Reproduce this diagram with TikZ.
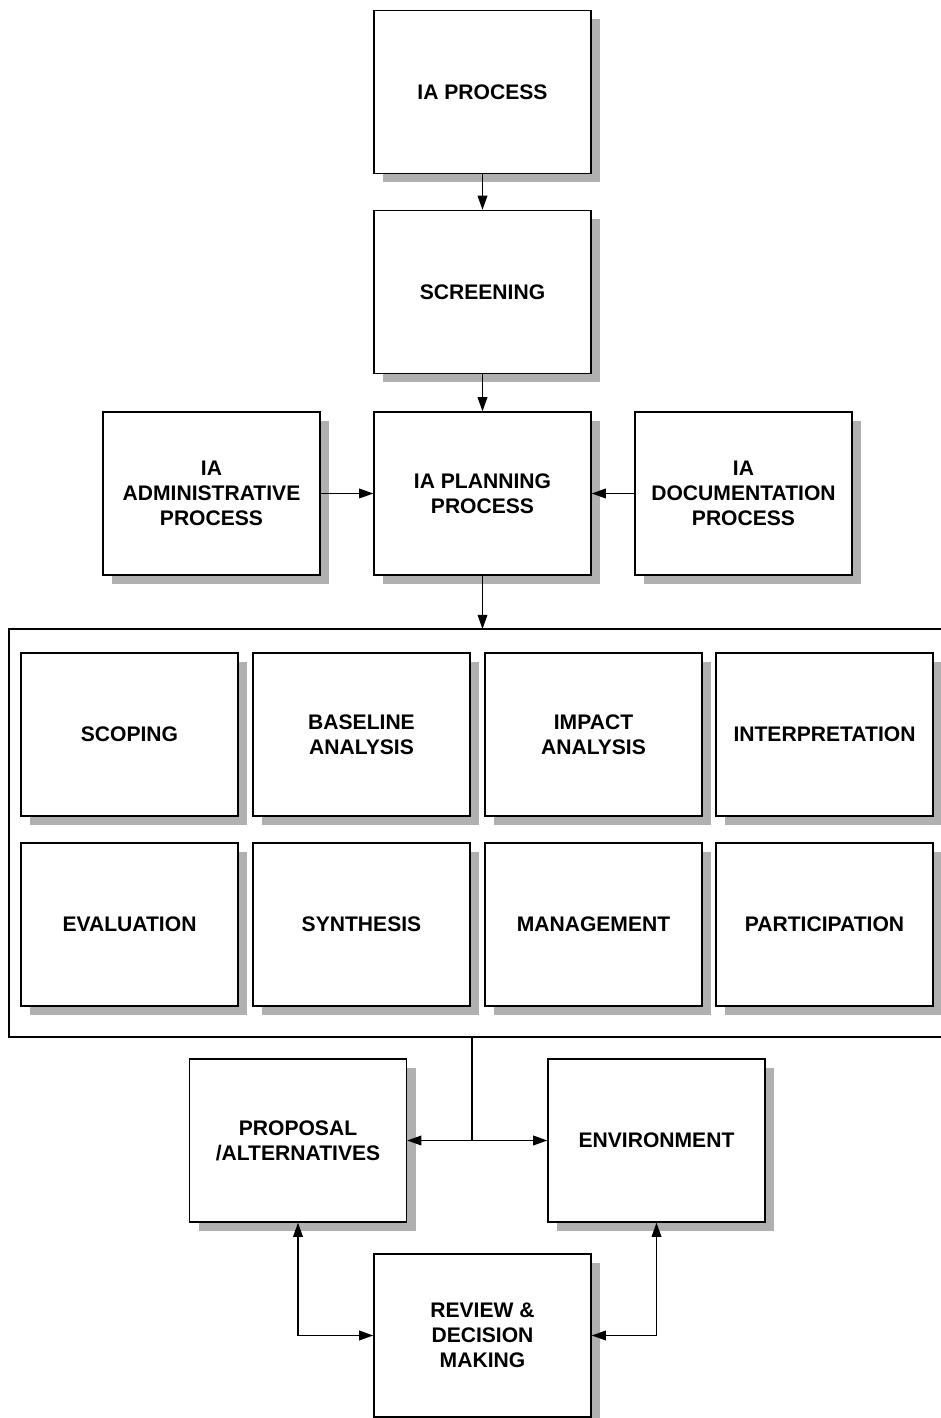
\documentclass[tikz,border=0pt]{standalone}
\usepackage{fontspec}
\setmainfont{Liberation Sans}
\usetikzlibrary{arrows.meta, positioning, shadows}

\tikzset{
	iabox/.style={draw, line width=0.8pt, fill=white, minimum width=4.34cm, minimum height=3.26cm,
		inner sep=0pt, align=center, font=\fontsize{12}{14.2}\selectfont\bfseries,
		drop shadow={shadow xshift=0.18cm, shadow yshift=-0.18cm, fill=black!31, opacity=1}},
	flow/.style={line width=0.7pt, -{Triangle[length=8pt,width=5.5pt]}},
	flowboth/.style={line width=0.7pt, {Triangle[length=8pt,width=5.5pt]}-{Triangle[length=8pt,width=5.5pt]}}
}

\begin{document}
\begin{tikzpicture}[]

		\useasboundingbox (0,0) rectangle (18.82,28.36);

		% Glowny ciag
		\node[iabox] (proc) at (9.65,26.52) {IA PROCESS};
		\node[iabox] (scr) at (9.65,22.52) {SCREENING};
		\node[iabox] (plan) at (9.65,18.49) {IA PLANNING\\PROCESS};
		\node[iabox] (adm) at (4.23,18.49) {IA\\ADMINISTRATIVE\\PROCESS};
		\node[iabox] (doc) at (14.87,18.49) {IA\\DOCUMENTATION\\PROCESS};

		\draw[flow] (proc) -- (scr);
		\draw[flow] (scr) -- (plan);
		\draw[flow] (adm) -- (plan);
		\draw[flow] (doc) -- (plan);

		% Ramka etapow
		\coordinate (stgtop) at (9.65,15.78);
		\coordinate (stgbot) at (9.44,7.62);
		\draw[line width=0.8pt] (18.9,15.78) -- (0.18,15.78) -- (0.18,7.62) -- (18.9,7.62);
		\draw[flow] (plan) -- (stgtop);

		% Etapy
		\node[iabox] (scope) at (2.59,13.67) {SCOPING};
		\node[iabox] (base) at (7.23,13.67) {BASELINE\\ANALYSIS};
		\node[iabox] (imp) at (11.87,13.67) {IMPACT\\ANALYSIS};
		\node[iabox] (intp) at (16.49,13.67) {INTERPRETATION};
		\node[iabox] (eval) at (2.59,9.87) {EVALUATION};
		\node[iabox] (syn) at (7.23,9.87) {SYNTHESIS};
		\node[iabox] (mgmt) at (11.87,9.87) {MANAGEMENT};
		\node[iabox] (part) at (16.49,9.87) {PARTICIPATION};

		% Dol schematu
		\node[iabox] (prop) at (5.96,5.55) {PROPOSAL\\/ALTERNATIVES};
		\node[iabox] (env) at (13.13,5.55) {ENVIRONMENT};
		\node[iabox] (rev) at (9.65,1.65) {REVIEW \&\\DECISION\\MAKING};

		\coordinate (split) at (9.44,5.55);
		\draw[line width=0.7pt] (stgbot) -- (split);
		\draw[flow] (split) -- (prop.east);
		\draw[flow] (split) -- (env.west);

		\draw[flowboth] (prop.south) |- (rev.west);
		\draw[flowboth] (env.south) |- (rev.east);

	\end{tikzpicture}
\end{document}
